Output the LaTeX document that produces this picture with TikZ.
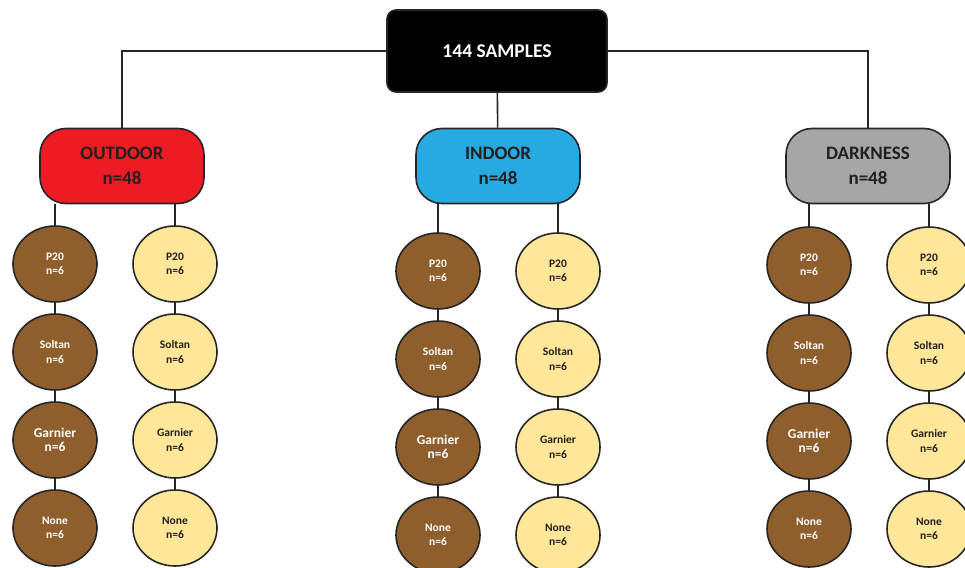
\documentclass[tikz,border=0pt]{standalone}
\usepackage{fontspec}
\setmainfont{Carlito}
\usetikzlibrary{shapes.geometric, positioning}

\definecolor{outred}{RGB}{237,28,36}
\definecolor{inblue}{RGB}{39,170,225}
\definecolor{darkfill}{RGB}{166,166,166}
\definecolor{ballbrown}{RGB}{143,94,45}
\definecolor{ballyellow}{RGB}{255,230,153}
\definecolor{edgegray}{RGB}{38,38,38}
\definecolor{inkgray}{RGB}{35,31,32}

\begin{document}
\begin{tikzpicture}[x=1pt, y=-1pt, line width=1.6pt]
    \useasboundingbox (0,0) rectangle (965,567);
    \tikzset{TopStyle/.style = {rectangle,
                                rounded corners = 9pt,
                                fill            = black,
                                draw            = edgegray,
                                minimum width   = 220pt,
                                minimum height  = 82pt,
                                text            = white,
                                font            = \fontsize{19.5}{24}\selectfont\bfseries}}
    \tikzset{GroupStyle/.style = {rectangle,
                                  rounded corners = 26pt,
                                  draw            = edgegray,
                                  minimum width   = 164pt,
                                  minimum height  = 75pt,
                                  align           = center,
                                  text            = inkgray,
                                  font            = \fontsize{19}{25}\selectfont\bfseries}}
    \tikzset{BallStyle/.style = {ellipse,
                                 draw          = edgegray,
                                 minimum width = 84pt,
                                 minimum height= 76pt,
                                 inner sep     = 0pt,
                                 align         = center}}
    \tikzset{BrownBall/.style = {BallStyle,
                                 fill = ballbrown,
                                 text = white}}
    \tikzset{YellowBall/.style = {BallStyle,
                                  fill = ballyellow,
                                  text = inkgray,
                                  font = \fontsize{11.5}{14.5}\selectfont\bfseries}}
    \node[TopStyle] (samples) at (497,51) {144 SAMPLES};
    \node[GroupStyle, fill = outred]   (out)  at (122,166) {OUTDOOR\\n=48};
    \node[GroupStyle, fill = inblue]   (in)   at (498,166) {INDOOR\\n=48};
    \node[GroupStyle, fill = darkfill] (dark) at (868,166) {DARKNESS\\n=48};
    \draw[edgegray] (samples.west) -| (out.north);
    \draw[edgegray] (samples.east) -| (dark.north);
    \draw[edgegray] (samples) -- (in);
    % two columns of balls under each group
    \foreach \grp/\bx/\yx/\ty in {out/55/175/264, in/438/558/271, dark/809/929/265}{
        \foreach \lab/\fs [count=\i from 0] in {P20/11.5, Soltan/11.5, Garnier/13.5, None/11.5}{
            \node[BrownBall, font = \fontsize{\fs}{14.5}\selectfont\bfseries]
                (\grp-b\i) at (\bx,\ty+88*\i) {\lab\\n=6};
            \node[YellowBall] (\grp-y\i) at (\yx,\ty+88*\i) {\lab\\n=6};
        }
        \draw[edgegray] (\grp-b0.north) -- (\grp-b0.north |- \grp.south);
        \draw[edgegray] (\grp-y0.north) -- (\grp-y0.north |- \grp.south);
        \foreach \i/\j in {0/1, 1/2, 2/3}{
            \draw[edgegray] (\grp-b\i) -- (\grp-b\j);
            \draw[edgegray] (\grp-y\i) -- (\grp-y\j);
        }
    }
\end{tikzpicture}
\end{document}
